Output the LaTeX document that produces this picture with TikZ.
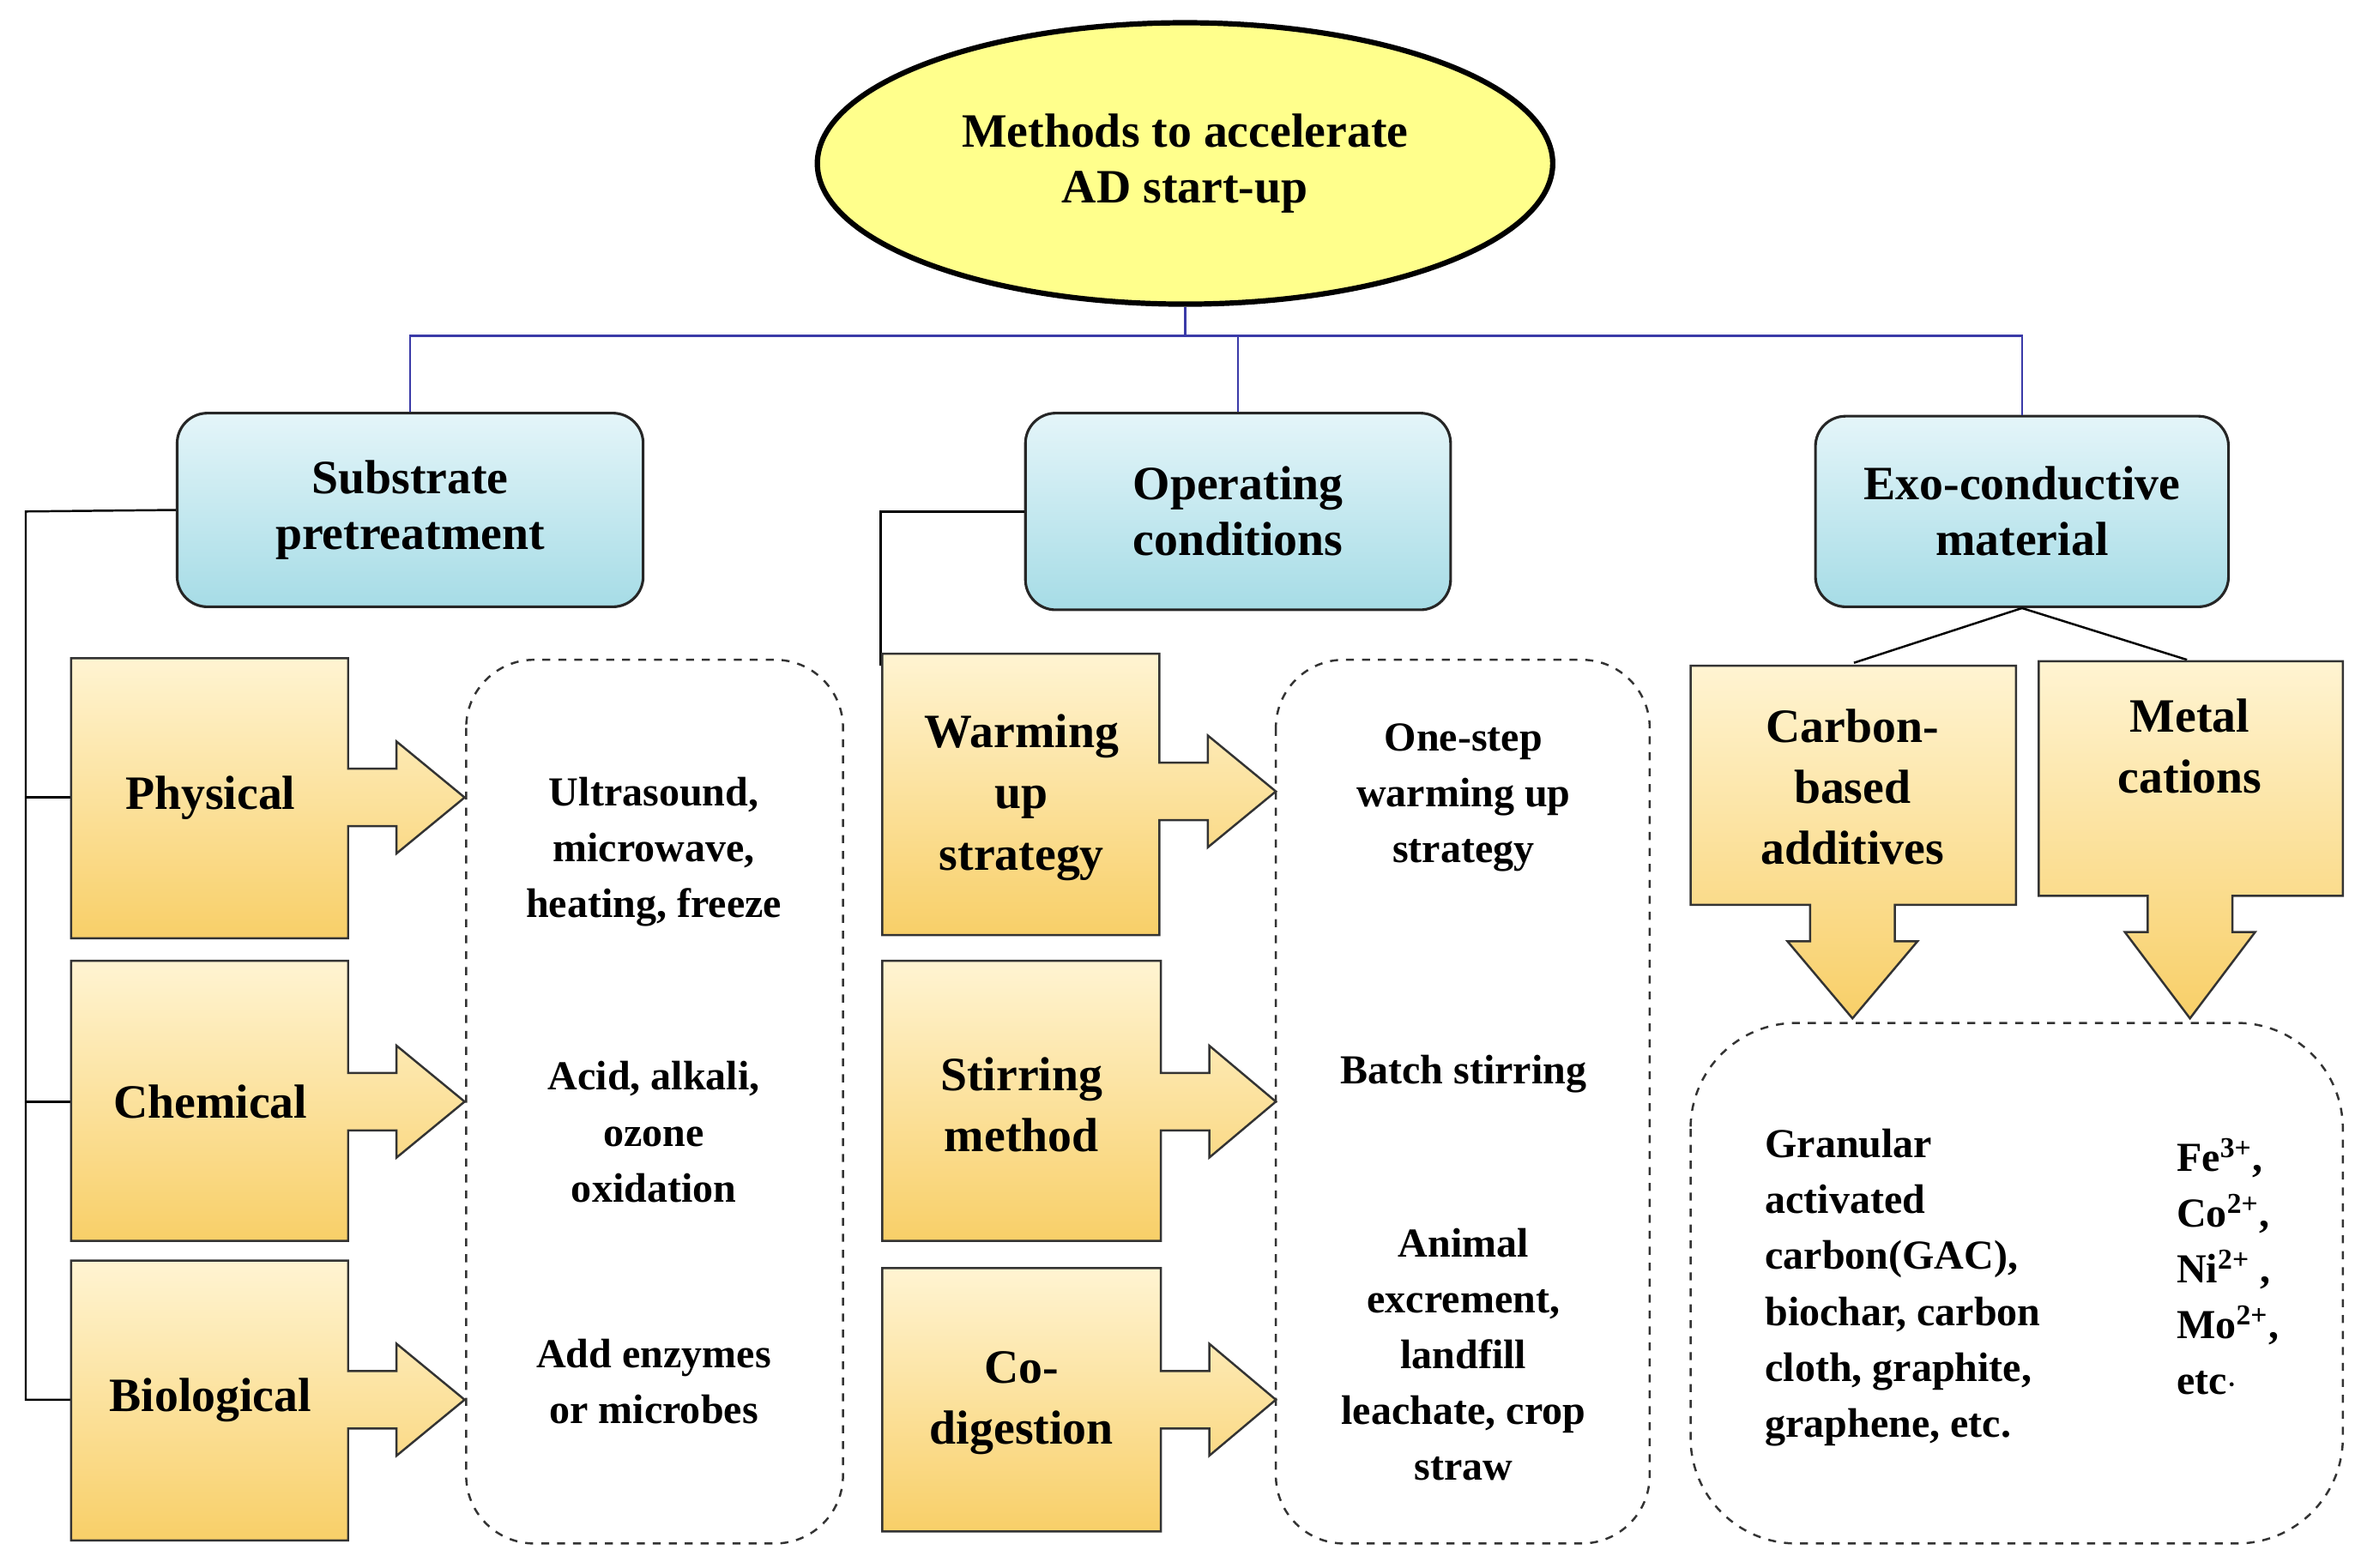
\documentclass[tikz,border=0pt]{standalone}
\usepackage{fontspec}
\setmainfont{Liberation Serif}
\usetikzlibrary{shapes.geometric}
\definecolor{ellf}{HTML}{FFFF8C}
\definecolor{btop}{HTML}{E4F5F9}
\definecolor{bbot}{HTML}{A6DCE6}
\definecolor{atop}{HTML}{FFF4D2}
\definecolor{abot}{HTML}{F8CF68}
\definecolor{busc}{HTML}{3A3AA8}
\tikzset{
 arrbox/.style={top color=atop,bottom color=abot,draw=black!80,line width=0.8pt},
 hbox/.style={draw=black!85,line width=1pt,rounded corners=0.4cm,top color=btop,bottom color=bbot,align=center,font=\fontsize{18}{21}\selectfont\bfseries},
 lbl/.style={align=center,font=\fontsize{18}{23}\selectfont\bfseries},
 txt/.style={align=center,font=\fontsize{15.5}{21}\selectfont\bfseries},
 dbox/.style={draw=black!80,dashed,line width=0.8pt},
}
\newcommand\rarr[6]{%
\shade[arrbox] (#1,-#2) -- (#3,-#2) -- (#3,{-(#5-19)}) -- ({#3+32},{-(#5-19)}) -- ({#3+32},{-(#5-37)}) -- (#6,-#5) -- ({#3+32},{-(#5+37)}) -- ({#3+32},{-(#5+19)}) -- (#3,{-(#5+19)}) -- (#3,-#4) -- (#1,-#4) -- cycle;}
\newcommand\darr[6]{%
\shade[arrbox] (#1,-#2) -- (#3,-#2) -- (#3,-#4) -- ({#5+28},-#4) -- ({#5+28},{-(#4+24)}) -- ({#5+43},{-(#4+24)}) -- (#5,-#6) -- ({#5-43},{-(#4+24)}) -- ({#5-28},{-(#4+24)}) -- ({#5-28},-#4) -- (#1,-#4) -- cycle;}
\begin{document}
\begin{tikzpicture}[x=0.02cm,y=0.02cm]
\useasboundingbox (0,0) rectangle (1560,-1036);
\fill[white] (0,0) rectangle (1560,-1036);
% top ellipse
\node[ellipse,draw,line width=2pt,fill=ellf,minimum width=9.72cm,minimum height=3.72cm,align=center,font=\fontsize{18}{21}\selectfont\bfseries] (ell) at (783,-108) {Methods to accelerate\\AD start-up};
\node[hbox,minimum width=6.16cm,minimum height=2.56cm] (sub) at (271,-337) {Substrate\\pretreatment};
\node[hbox,minimum width=5.62cm,minimum height=2.6cm] (op) at (818,-338) {Operating\\conditions};
\node[hbox,minimum width=5.46cm,minimum height=2.52cm] (exo) at (1336,-338) {Exo-conductive\\material};
\coordinate (bus) at (783,-222);
\draw[busc,line width=0.8pt] (ell.south) -- (bus);
\draw[busc,line width=0.8pt] (sub.north) |- (exo.north|-bus) -- (exo.north);
\draw[busc,line width=0.8pt] (bus) -| (op.north);
% left tree
\coordinate (t1) at (47,-527); \coordinate (t2) at (47,-728); \coordinate (t3) at (47,-925);
\coordinate (c1) at (17,-338); \coordinate (c2) at (582,-338); \coordinate (c3) at (582,-440);
\draw[line width=0.8pt] (sub.west) -- (c1) |- (t3);
\draw[line width=0.8pt] (c1|-t1) -- (t1);
\draw[line width=0.8pt] (c1|-t2) -- (t2);
\draw[line width=0.8pt] (op.west) -- (c2) -- (c3);
\coordinate (cb) at (1225,-438); \coordinate (mc) at (1445,-436);
\draw[line width=0.8pt] (exo.south) -- (cb);
\draw[line width=0.8pt] (exo.south) -- (mc);
% arrow blocks column 1
\rarr{47}{435}{230}{620}{527}{307}
\rarr{47}{635}{230}{820}{728}{307}
\rarr{47}{833}{230}{1018}{925}{307}
\node[lbl] (phy) at (139,-527) {Physical};
\node[lbl] (che) at (139,-728) {Chemical};
\node[lbl] (bio) at (139,-925) {Biological};
\draw[dbox,rounded corners=0.9cm] (308,-436) rectangle (557,-1020);
\node[txt] (t11) at (432,-563) {Ultrasound,\\microwave,\\heating, freeze};
\node[txt] (t12) at (432,-748) {Acid, alkali,\\ozone\\oxidation};
\node[txt] (t13) at (432,-913) {Add enzymes\\or microbes};
% column 2
\rarr{583}{432}{766}{618}{523}{843}
\rarr{583}{635}{767}{820}{728}{843}
\rarr{583}{838}{767}{1012}{925}{843}
\node[lbl] (war) at (675,-527) {Warming\\up\\strategy};
\node[lbl] (sti) at (675,-730) {Stirring\\method};
\node[lbl] (cod) at (675,-927) {Co-\\digestion};
\draw[dbox,rounded corners=0.9cm] (843,-436) rectangle (1090,-1020);
\node[txt] (t21) at (967,-527) {One-step\\warming up\\strategy};
\node[txt] (t22) at (967,-710) {Batch stirring};
\node[txt] (t23) at (967,-895) {Animal\\excrement,\\landfill\\leachate, crop\\straw};
% column 3
\darr{1117}{440}{1332}{598}{1224}{673}
\darr{1347}{437}{1548}{592}{1447}{673}
\node[lbl] (car) at (1224,-520) {Carbon-\\based\\additives};
\node[lbl] (met) at (1447,-493) {Metal\\cations};
\draw[dbox,rounded corners=1.4cm] (1117,-676) rectangle (1548,-1020);
\node[txt,align=left,anchor=north west] (t31) at (1160,-740) {Granular\\activated\\carbon(GAC),\\biochar, carbon\\cloth, graphite,\\graphene, etc.};
\node[txt,align=left,anchor=north west] (t32) at (1432,-746) {Fe\textsuperscript{3+},\\Co\textsuperscript{2+},\\Ni\textsuperscript{2+} ,\\Mo\textsuperscript{2+},\\etc$\cdot$};
\end{tikzpicture}
\end{document}
